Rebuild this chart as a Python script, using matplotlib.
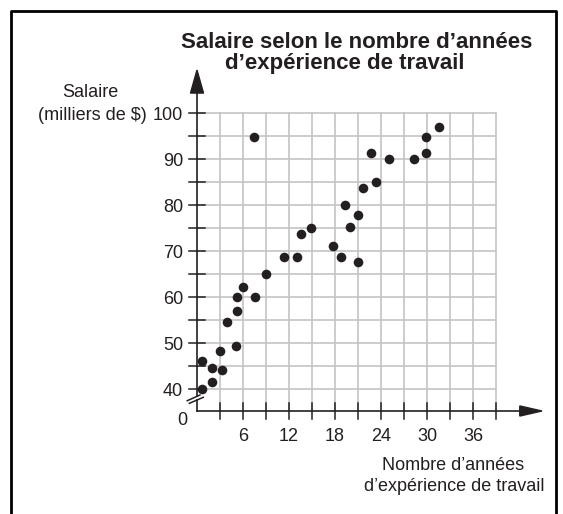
import matplotlib.pyplot as plt
import numpy as np
from matplotlib.lines import Line2D

plt.rcParams['font.family'] = ['Liberation Sans', 'DejaVu Sans']

# nuage de points : années d'expérience / salaire (milliers de $)
annees = [0.7, 0.7, 2.0, 2.0, 3.2, 3.0, 3.9, 5.1, 5.2, 5.2, 6.0, 7.6, 7.4, 9.0,
          11.4, 13.0, 13.5, 14.9, 17.8, 18.8, 19.3, 20.0, 21.0, 21.0, 21.6,
          22.7, 23.3, 25.0, 28.3, 29.9, 29.9, 31.5]
salaires = [40.0, 46.2, 41.5, 44.6, 44.2, 48.4, 54.6, 49.5, 57.0, 60.1, 62.3,
            60.1, 94.9, 65.1, 68.8, 68.8, 73.7, 75.1, 71.2, 68.7, 80.0, 75.3,
            78.0, 67.7, 83.7, 91.4, 85.0, 90.0, 90.0, 91.3, 94.9, 97.0]

x_labels = [6, 12, 18, 24, 30, 36]
y_labels = [40, 50, 60, 70, 80, 90, 100]
x_grid = np.arange(3, 40, 3)
y_grid = np.arange(40, 101, 5)

titre = ['Salaire selon le nombre d’années', 'd’expérience de travail']
label_y = ['Salaire', '(milliers de $)']
label_x = ['Nombre d’années', 'd’expérience de travail']

INK = '#231f20'
GRID = '#c4c4c4'

# pixel layout of the original picture
W, H = 563, 514
ORIG_X, ORIG_Y = 197, 411          # where the two axes meet
PX_X, PX_Y = 23 / 3, 23 / 5        # pixels per unit
YBASE = 40 - (ORIG_Y - 389.3) / PX_Y
XMAX, YMAX = 46, 110

fig = plt.figure(figsize=(W / 100, H / 100), dpi=100)
ax = fig.add_axes([ORIG_X / W, 1 - ORIG_Y / H,
                   XMAX * PX_X / W, (YMAX - YBASE) * PX_Y / H])
ax.set_xlim(0, XMAX)
ax.set_ylim(YBASE, YMAX)
ax.axis('off')

# grille
for x in x_grid:
    ax.plot([x, x], [YBASE, 100], color=GRID, lw=1.2, zorder=1)
for y in y_grid:
    ax.plot([0, 39], [y, y], color=GRID, lw=1.2, zorder=1)

# axe des x avec flèche
ax.plot([0, 43], [YBASE, YBASE], color=INK, lw=1.2, clip_on=False, zorder=3)
ax.fill([42.1, 45.0, 42.1], [YBASE - 1.1, YBASE, YBASE + 1.1], color=INK,
        clip_on=False, zorder=3)
for x in x_grid:
    ax.plot([x, x], [YBASE - 1.74, YBASE + 1.74], color=INK, lw=1.1,
            clip_on=False, zorder=3)

# axe des y avec coupure et flèche
ax.plot([0, 0], [38.47, 105], color=INK, lw=1.2, clip_on=False, zorder=3)
ax.plot([0, 0], [YBASE, 37.67], color=INK, lw=1.2, clip_on=False, zorder=3)
ax.fill([-0.85, 0, 0.85], [104.4, 109.4, 104.4], color=INK, clip_on=False,
        zorder=3)
ax.plot([-1.27, 0.39], [37.52, 38.76], color=INK, lw=1.1, clip_on=False)
ax.plot([-1.0, 0.82], [36.95, 38.26], color=INK, lw=1.1, clip_on=False)
for y in y_grid:
    ax.plot([-1.1, 1.1], [y, y], color=INK, lw=1.1, clip_on=False, zorder=3)

# étiquettes des graduations
for y in y_labels:
    ax.text(-1.83, y - 1.35, str(y), ha='right', va='baseline', fontsize=13,
            color=INK)
for x in x_labels:
    ax.text(x, YBASE - 30 / PX_Y, str(x), ha='center', va='baseline',
            fontsize=13, color=INK)
ax.text(-1.96, YBASE - 13.5 / PX_Y, '0', ha='center', va='baseline',
        fontsize=13, color=INK)

# points
ax.scatter(annees, salaires, s=48, color=INK, linewidths=0, zorder=5,
           clip_on=False)


def fig_text(px, py, s, **kw):
    fig.text(px / W, 1 - py / H, s, ha='center', va='baseline', color=INK, **kw)


fig_text(357, 48, titre[0], fontsize=16, fontweight='bold')
fig_text(345, 69.5, titre[1], fontsize=16, fontweight='bold')
fig_text(90, 96.7, label_y[0], fontsize=13)
fig_text(92, 120, label_y[1], fontsize=13)
fig_text(453, 470, label_x[0], fontsize=13)
fig_text(454, 491, label_x[1], fontsize=13)

# cadre ouvert en bas
fig.add_artist(Line2D([11 / W, 11 / W, 556 / W, 556 / W],
                      [0, 1 - 11 / H, 1 - 11 / H, 0],
                      transform=fig.transFigure, color='black', lw=2))

fig.savefig('out.png', dpi=100)
